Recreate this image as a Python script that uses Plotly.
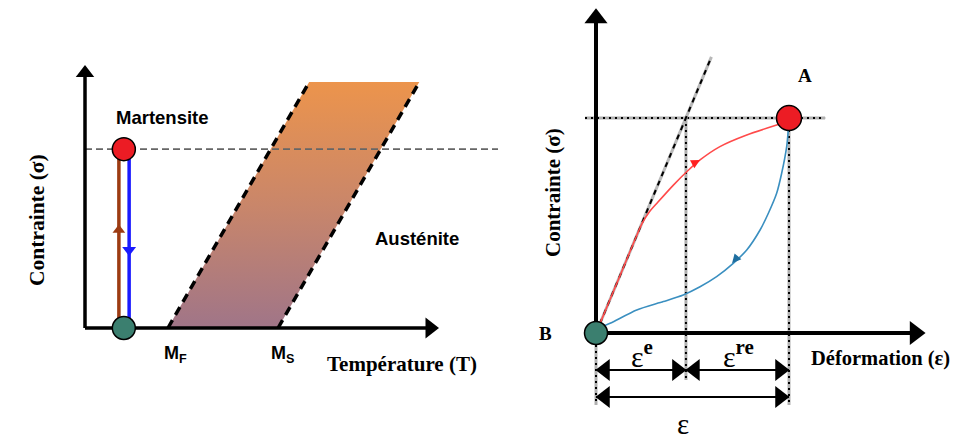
import plotly.graph_objects as go

# ---------------- data (schematic units) ----------------
# Left panel: stress-temperature phase diagram
T_AXIS_END = 10.0
SIG_AXIS_END_L = 10.0
M_F = 2.35
M_S = 5.47
BAND_TOP_SIG = 9.35
BAND_SHIFT = 4.0
SIG_LOAD = 6.8
T_TEST = 1.1
T_LOAD_LINE = 0.96
T_UNLOAD_LINE = 1.25
LOAD_LINE_END = 11.7
BROWN_ARROW_SIG = 3.73
BLUE_ARROW_SIG = 2.97

# Right panel: stress-strain superelastic loop
EPS_AXIS_END = 17.05
SIG_AXIS_END_R = 15.1
EPS_A = 10.0
SIG_A = 10.0
EPS_E = 4.66
TANGENT_EPS = [0.0, 5.98]
TANGENT_SIG = [0.0, 12.84]
load_eps = [0.0, 0.28, 1.12, 2.0, 2.4, 2.75, 3.2, 4.01, 4.70, 5.39, 6.42, 7.81, 9.53, 10.0]
load_sig = [0.0, 0.6, 2.4, 4.3, 5.12, 5.62, 6.08, 6.88, 7.50, 8.05, 8.67, 9.21, 9.72, 9.85]
unload_eps = [9.97, 9.88, 9.62, 9.36, 8.93, 8.50, 7.81, 7.11, 6.25, 5.39, 4.52, 3.49, 2.11, 0.73, 0.12, 0.0]
unload_sig = [9.52, 8.67, 7.43, 6.50, 5.57, 4.79, 3.86, 3.24, 2.62, 2.15, 1.77, 1.46, 1.07, 0.45, 0.22, 0.0]
DIM_ROW1 = -1.72
DIM_ROW2 = -2.98
DOT_LOW_E = -2.19
DOT_LOW = -3.35
DOT_H_START = -0.57
DOT_H_END = 11.87

# ---------------- layout constants (pixels) ----------------
W, H = 954, 439
OXL, OYL, SXL, SYL = 85, 328, 35.3, 26.3   # left origin & scale
OXR, OYR, SXR, SYR = 596, 333, 19.3, 21.5  # right origin & scale

SERIF = "Liberation Serif, Times New Roman, serif"
SANS = "Liberation Sans, Arial, sans-serif"

fig = go.Figure()


def line(x, y, ax="L", **kw):
    xa, ya = ("x", "y") if ax == "L" else ("x2", "y2")
    fig.add_trace(go.Scatter(x=x, y=y, mode="lines", xaxis=xa, yaxis=ya,
                             hoverinfo="skip", showlegend=False, **kw))


def mark(x, y, ax="L", **kw):
    xa, ya = ("x", "y") if ax == "L" else ("x2", "y2")
    fig.add_trace(go.Scatter(x=x, y=y, mode="markers", xaxis=xa, yaxis=ya,
                             hoverinfo="skip", showlegend=False, **kw))


# ===== LEFT PANEL =====
band_T = [M_F, M_S, M_S + BAND_SHIFT, M_F + BAND_SHIFT, M_F]
band_S = [0, 0, BAND_TOP_SIG, BAND_TOP_SIG, 0]
fig.add_trace(go.Scatter(
    x=band_T, y=band_S, mode="lines", fill="toself", line=dict(width=0),
    fillgradient=dict(type="vertical",
                      colorscale=[[0, "#a07588"], [0.5, "#c9866a"], [1, "#ec944c"]]),
    hoverinfo="skip", showlegend=False))
for t0 in (M_F, M_S):
    line([t0, t0 + BAND_SHIFT], [0, BAND_TOP_SIG],
         line=dict(color="black", width=3.5, dash="9px,6px"))
line([0, LOAD_LINE_END], [SIG_LOAD, SIG_LOAD],
     line=dict(color="#666666", width=1.6, dash="7px,4px"))
line([0, 0], [0, SIG_AXIS_END_L - 8 / SYL], line=dict(color="black", width=3.5))
line([0, T_AXIS_END - 10 / SXL], [0, 0], line=dict(color="black", width=3.5))
mark([0], [SIG_AXIS_END_L - 8 / SYL], marker=dict(symbol="triangle-up", size=16, color="black"))
mark([T_AXIS_END - 8 / SXL], [0], marker=dict(symbol="triangle-right", size=18, color="black"))
line([T_LOAD_LINE, T_LOAD_LINE], [0, SIG_LOAD], line=dict(color="#9c3b12", width=3.5))
line([T_UNLOAD_LINE, T_UNLOAD_LINE], [0, SIG_LOAD], line=dict(color="#1a1aff", width=3.5))
mark([T_LOAD_LINE], [BROWN_ARROW_SIG], marker=dict(symbol="triangle-up", size=11, color="#9c3b12"))
mark([T_UNLOAD_LINE], [BLUE_ARROW_SIG], marker=dict(symbol="triangle-down", size=12, color="#1a1aff"))
mark([T_TEST], [SIG_LOAD], marker=dict(size=23, color="#ec1c24", line=dict(color="black", width=1.5)))
mark([T_TEST], [0], marker=dict(size=23, color="#3b7f6f", line=dict(color="black", width=1.5)))

# ===== RIGHT PANEL =====
dot_bg = dict(color="#b0b0b0", width=3)
dot_fg = dict(color="black", width=2, dash="2px,4px")
guides = [([DOT_H_START, DOT_H_END], [SIG_A, SIG_A]),
          ([EPS_E, EPS_E], [SIG_A, DOT_LOW_E]),
          ([EPS_A, EPS_A], [SIG_A, DOT_LOW]),
          ([0, 0], [0, DOT_LOW])]
for gx, gy in guides:
    line(gx, gy, ax="R", line=dot_bg)
    line(gx, gy, ax="R", line=dot_fg)
line(TANGENT_EPS, TANGENT_SIG, ax="R", line=dict(color="#b8b8b8", width=3))
line(TANGENT_EPS, TANGENT_SIG, ax="R", line=dict(color="black", width=2, dash="5px,5px"))
line(load_eps, load_sig, ax="R", line=dict(color="#ff4a4a", width=1.6, shape="spline", smoothing=0.7))
line(unload_eps, unload_sig, ax="R", line=dict(color="#3a8fc0", width=1.6, shape="spline", smoothing=0.7))
line([0, 0], [0, SIG_AXIS_END_R - 12 / SYR], ax="R", line=dict(color="black", width=4))
line([0, EPS_AXIS_END - 12 / SXR], [0, 0], ax="R", line=dict(color="black", width=4))
mark([0], [SIG_AXIS_END_R - 10 / SYR], ax="R", marker=dict(symbol="triangle-up", size=20, color="black"))
mark([EPS_AXIS_END - 10 / SXR], [0], ax="R", marker=dict(symbol="triangle-right", size=21, color="black"))
for (a, b, yy) in [(0, EPS_E, DIM_ROW1), (EPS_E, EPS_A, DIM_ROW1), (0, EPS_A, DIM_ROW2)]:
    line([a, b], [yy, yy], ax="R", line=dict(color="black", width=2))
    mark([a + 9 / SXR], [yy], ax="R", marker=dict(symbol="triangle-left", size=19, color="black"))
    mark([b - 9 / SXR], [yy], ax="R", marker=dict(symbol="triangle-right", size=19, color="black"))
mark([EPS_A], [SIG_A], ax="R", marker=dict(size=25, color="#ec1c24", line=dict(color="black", width=1.5)))
mark([0], [0], ax="R", marker=dict(size=23, color="#3b7f6f", line=dict(color="black", width=1.5)))

# ---------------- annotations ----------------
ann = []


def txt(x, y, s, ax="L", size=20, family=SERIF, **kw):
    xr, yr = ("x", "y") if ax == "L" else ("x2", "y2")
    ann.append(dict(x=x, y=y, xref=xr, yref=yr, text=s, showarrow=False,
                    font=dict(family=family, size=size, color="black"), **kw))


def px2L(px, py):
    return (px - OXL) / SXL, (OYL - py) / SYL


def px2R(px, py):
    return (px - OXR) / SXR, (OYR - py) / SYR


txt(*px2L(37, 220), "<b>Contrainte (σ)</b>", size=21.5, textangle=-90)
txt(*px2L(162, 117), "<b>Martensite</b>", size=18.5, family=SANS)
txt(*px2L(417, 238), "<b>Austénite</b>", size=18.5, family=SANS)
txt(*px2L(175, 354), "<b>M<sub>F</sub></b>", size=18, family=SANS)
txt(*px2L(282, 354), "<b>M<sub>S</sub></b>", size=18, family=SANS)
txt(*px2L(402, 364), "<b>Température (T)</b>", size=21)

txt(*px2R(805, 75), "<b>A</b>", ax="R", size=19)
txt(*px2R(545, 333), "<b>B</b>", ax="R", size=19)
txt(*px2R(553, 193), "<b>Contrainte (σ)</b>", ax="R", size=21, textangle=-90)
txt(*px2R(880, 358), "<b>Déformation (ε)</b>", ax="R", size=20.5)
txt(*px2R(642, 354), "ε<sup><b>e</b></sup>", ax="R", size=30)
txt(*px2R(738, 354), "ε<sup><b>re</b></sup>", ax="R", size=30)
txt(*px2R(683, 437), "ε", ax="R", size=29, yanchor="bottom", yshift=-5)

ann.append(dict(x=5.39, y=8.05, xref="x2", yref="y2", ax=-9, ay=5, showarrow=True,
                arrowhead=2, arrowsize=1.2, arrowwidth=1.5, arrowcolor="#ff2020", text=""))
ann.append(dict(x=7.05, y=3.25, xref="x2", yref="y2", ax=7, ay=-8, showarrow=True,
                arrowhead=2, arrowsize=1.2, arrowwidth=1.5, arrowcolor="#1f6fa0", text=""))

fig.update_layout(
    width=W, height=H, margin=dict(l=0, r=0, t=0, b=0),
    paper_bgcolor="white", plot_bgcolor="rgba(0,0,0,0)",
    showlegend=False, annotations=ann,
    xaxis=dict(domain=[0, 1], range=[-OXL / SXL, (W - OXL) / SXL], visible=False, fixedrange=True),
    yaxis=dict(domain=[0, 1], range=[(OYL - H) / SYL, OYL / SYL], visible=False, fixedrange=True),
    xaxis2=dict(domain=[0, 1], overlaying="x", anchor="y2", range=[-OXR / SXR, (W - OXR) / SXR],
                visible=False, fixedrange=True),
    yaxis2=dict(domain=[0, 1], overlaying="y", anchor="x2", range=[(OYR - H) / SYR, OYR / SYR],
                visible=False, fixedrange=True),
)

fig.write_html("out.html", config={"displayModeBar": False},
               post_script="document.body.style.margin='0px';document.body.style.overflow='hidden';")
